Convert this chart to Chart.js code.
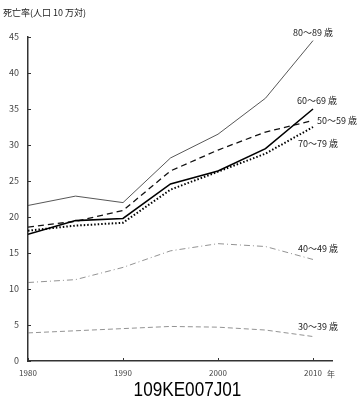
<!DOCTYPE html>
<html>
<head>
<meta charset="utf-8">
<script src="https://cdn.jsdelivr.net/npm/chart.js@4/dist/chart.umd.min.js"></script>
<style>
  html, body { margin: 0; padding: 0; background: #fff; }
  #wrap { position: relative; width: 361px; height: 401px; overflow: hidden; }
  #code {
    position: absolute; left: 7px; width: 361px; top: 377px;
    text-align: center; font-family: "Liberation Sans Narrow", "Liberation Sans", sans-serif;
    font-size: 19.5px; color: #000; line-height: 24px;
    transform: scaleX(0.88); transform-origin: 50% 0;
  }
</style>
</head>
<body>
<div id="wrap">
  <canvas id="chart" width="361" height="401"></canvas>
  <div id="code">109KE007J01</div>
</div>
<script>
// datos
const years = [1980, 1985, 1990, 1995, 2000, 2005, 2010];
const age80 = [21.6, 22.9, 22.0, 28.2, 31.5, 36.5, 44.5];
const age60 = [17.6, 19.5, 19.8, 24.6, 26.4, 29.5, 35.0];
const age50 = [18.6, 19.4, 20.9, 26.4, 29.3, 31.8, 33.4];
const age70 = [18.1, 18.8, 19.2, 23.8, 26.3, 28.8, 32.5];
const age40 = [10.9, 11.3, 13.0, 15.3, 16.3, 15.9, 14.1];
const age30 = [3.9, 4.2, 4.5, 4.8, 4.7, 4.3, 3.4];
const seriesNames = ['80～89 歳', '60～69 歳', '50～59 歳', '70～79 歳', '40～49 歳', '30～39 歳'];
const xTicks = [1980, 1990, 2000, 2010];
const yTicks = [0, 5, 10, 15, 20, 25, 30, 35, 40, 45];
const yTitle = '死亡率(人口 10 万対)';
const xUnit = '年';

const jpFont = '"Noto Sans CJK JP", "DejaVu Sans", sans-serif';

function pts(vals) {
    return years.map((y, i) => ({ x: y, y: vals[i] }));
}

// estilos de cada serie + posicion de la etiqueta (relativa al ultimo punto)
const styles = [
    { data: age80, color: '#444', width: 0.9, dash: [], lab: { dx: 0, dy: -8, align: 'center' } },
    { data: age60, color: '#000', width: 1.6, dash: [], lab: { dx: 4, dy: -8, align: 'center' } },
    { data: age50, color: '#111', width: 1.3, dash: [6, 4], lab: { dx: 4, dy: 0, align: 'left' } },
    { data: age70, color: '#000', width: 2, dash: [1.5, 2], lab: { dx: -15, dy: 17, align: 'left' } },
    { data: age40, color: '#777', width: 0.8, dash: [6, 3, 1, 3], lab: { dx: -15, dy: -11, align: 'left' } },
    { data: age30, color: '#777', width: 0.8, dash: [5, 3], lab: { dx: -15, dy: -10, align: 'left' } }
];

// plugin: ticks hacia dentro, etiquetas de series y titulos
const extras = {
    id: 'extras',
    afterDraw(chart) {
        const ctx = chart.ctx;
        const xs = chart.scales.x, ys = chart.scales.y;
        const area = chart.chartArea;
        ctx.save();
        ctx.strokeStyle = '#333';
        ctx.lineWidth = 1;
        yTicks.forEach(v => {
            const py = Math.round(ys.getPixelForValue(v)) + 0.5;
            ctx.beginPath();
            ctx.moveTo(area.left, py);
            ctx.lineTo(area.left + 3, py);
            ctx.stroke();
        });
        xTicks.forEach(v => {
            const px = Math.round(xs.getPixelForValue(v)) + 0.5;
            ctx.beginPath();
            ctx.moveTo(px, area.bottom);
            ctx.lineTo(px, area.bottom - 3);
            ctx.stroke();
        });

        ctx.fillStyle = '#222';
        ctx.font = '9px ' + jpFont;
        ctx.textBaseline = 'middle';
        styles.forEach((s, i) => {
            const last = s.data.length - 1;
            const px = xs.getPixelForValue(years[last]);
            const py = ys.getPixelForValue(s.data[last]);
            ctx.textAlign = s.lab.align;
            ctx.fillText(seriesNames[i], px + s.lab.dx, py + s.lab.dy);
        });

        ctx.textAlign = 'left';
        ctx.fillText(yTitle, 3, 13);
        ctx.fillStyle = '#444';
        ctx.font = '8px ' + jpFont;
        ctx.fillText(xUnit, xs.getPixelForValue(2010) + 14, area.bottom + 13);
        ctx.restore();
    }
};

new Chart(document.getElementById('chart'), {
    type: 'line',
    data: {
        datasets: styles.map((s, i) => ({
            label: seriesNames[i],
            data: pts(s.data),
            borderColor: s.color,
            borderWidth: s.width,
            borderDash: s.dash,
            pointRadius: 0,
            fill: false,
            tension: 0
        }))
    },
    options: {
        responsive: false,
        animation: false,
        layout: { padding: { left: 0, top: 37, right: 29, bottom: 20 } },
        plugins: { legend: { display: false }, tooltip: { enabled: false } },
        scales: {
            x: {
                type: 'linear',
                min: 1980,
                max: 2012,
                afterBuildTicks: (sc) => { sc.ticks = xTicks.map(v => ({ value: v })); },
                afterFit: (sc) => { sc.height = 20; },
                grid: { drawOnChartArea: false, drawTicks: false },
                border: { color: '#333', width: 1.5 },
                ticks: { color: '#444', font: { size: 8, family: jpFont }, padding: 7, maxRotation: 0, callback: v => String(v) }
            },
            y: {
                min: 0,
                max: 45,
                afterBuildTicks: (sc) => { sc.ticks = yTicks.map(v => ({ value: v })); },
                afterFit: (sc) => { sc.width = 28; },
                grid: { drawOnChartArea: false, drawTicks: false },
                border: { color: '#333', width: 1.5 },
                ticks: { color: '#444', font: { size: 9, family: jpFont }, padding: 9 }
            }
        }
    },
    plugins: [extras]
});
</script>
</body>
</html>
